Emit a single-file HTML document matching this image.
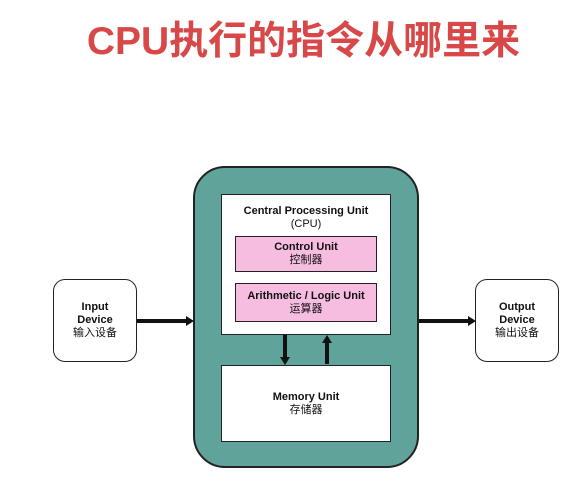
<!DOCTYPE html>
<html><head><meta charset="utf-8"><style>
body{margin:0;width:581px;height:478px;background:#fff;position:relative;overflow:hidden;font-family:"Liberation Sans","Noto Sans CJK SC",sans-serif}
.a{position:absolute;box-sizing:border-box}
.t{position:absolute;left:0;width:581px;top:18px;text-align:center;color:#d94848;font-weight:bold;font-size:39px;line-height:48px;padding-left:13px}
.lbl{display:flex;flex-direction:column;align-items:center;justify-content:center;text-align:center;font-size:11px;line-height:13px;color:#111}
.b{font-weight:bold}
</style></head><body>
<div class="t">CPU执行的指令从哪里来</div>
<div class="a" style="left:193px;top:166px;width:226px;height:302px;background:#5fa39b;border:2px solid #222;border-radius:32px"></div>
<div class="a lbl" style="left:221px;top:194px;width:170px;height:141px;background:#fff;border:1.5px solid #222;justify-content:flex-start;padding-top:10px"><span class="b">Central Processing Unit</span><span>(CPU)</span></div>
<div class="a lbl" style="left:235px;top:236px;width:142px;height:36px;background:#f6bde0;border:1.5px solid #222"><span class="b">Control Unit</span><span>控制器</span></div>
<div class="a lbl" style="left:235px;top:283px;width:142px;height:39px;background:#f6bde0;border:1.5px solid #222"><span class="b">Arithmetic / Logic Unit</span><span>运算器</span></div>
<div class="a lbl" style="left:221px;top:365px;width:170px;height:77px;background:#fff;border:1.5px solid #222"><span class="b">Memory Unit</span><span>存储器</span></div>
<div class="a lbl" style="left:53px;top:279px;width:84px;height:83px;background:#fff;border:1.5px solid #222;border-radius:12px"><span class="b">Input</span><span class="b">Device</span><span>输入设备</span></div>
<div class="a lbl" style="left:475px;top:279px;width:84px;height:83px;background:#fff;border:1.5px solid #222;border-radius:12px"><span class="b">Output</span><span class="b">Device</span><span>输出设备</span></div>
<svg class="a" style="left:0;top:0" width="581" height="478">
<g stroke="#111" stroke-width="4" fill="#111">
<line x1="137" y1="321" x2="188" y2="321"/><polygon points="194,321 186,316 186,326" stroke="none"/>
<line x1="419" y1="321" x2="470" y2="321"/><polygon points="476,321 468,316 468,326" stroke="none"/>
<line x1="285" y1="335" x2="285" y2="358"/><polygon points="285,365 280,357 290,357" stroke="none"/>
<line x1="327" y1="364" x2="327" y2="342"/><polygon points="327,335 322,343 332,343" stroke="none"/>
</g></svg>
</body></html>
